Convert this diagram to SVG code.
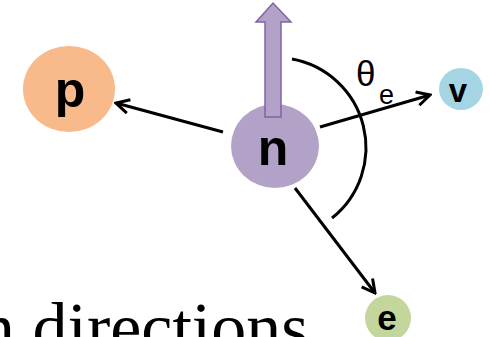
<svg xmlns="http://www.w3.org/2000/svg" width="490" height="337" viewBox="0 0 490 337">
<defs>
<style>
.lbl{font-family:"Liberation Sans",Arial,sans-serif;font-weight:bold;fill:#000;text-anchor:middle}
.conn{stroke:#000;stroke-width:3;fill:none}
</style>
<marker id="ah" viewBox="0 0 12 12" refX="10.5" refY="6" markerWidth="5.5" markerHeight="5.5" markerUnits="strokeWidth" orient="auto">
<path d="M1,1 L10.5,6 L1,11" fill="none" stroke="#000" stroke-width="2.2" stroke-linejoin="miter"/>
</marker>
</defs>
<rect width="490" height="337" fill="#fff"/>
<g id="connectors">
<line class="conn" x1="223" y1="132" x2="116" y2="103" marker-end="url(#ah)"/>
<line class="conn" x1="320" y1="127" x2="430" y2="95" marker-end="url(#ah)"/>
<line class="conn" x1="295" y1="188" x2="375" y2="293" marker-end="url(#ah)"/>
<path class="conn" d="M292,59 A90,90 0 0 1 332,218"/>
</g>
<g id="node-p">
<ellipse cx="69" cy="89" rx="46" ry="43" fill="#F8BA8A"/>
<text class="lbl" x="70" y="107" font-size="50">p</text>
</g>
<g id="node-n">
<ellipse cx="275" cy="146" rx="44" ry="42" fill="#B3A2C7"/>
<text class="lbl" x="273" y="165" font-size="50">n</text>
<polygon points="265,117 281,117 281,22 291,22 273,3 256,22 265,22" fill="#B3A2C7" stroke="#8064A2" stroke-width="1.5"/>
</g>
<g id="node-v">
<ellipse cx="461" cy="89" rx="22" ry="21" fill="#A5D5E2"/>
<text class="lbl" x="458" y="102" font-size="33">v</text>
</g>
<g id="node-e">
<ellipse cx="388" cy="318" rx="23" ry="23" fill="#C3D69B"/>
<text class="lbl" x="387" y="330" font-size="35">e</text>
</g>
<g id="theta-label" font-family="'Liberation Sans',Arial,sans-serif" fill="#000">
<text x="356" y="86" font-size="35">θ</text>
<text x="379" y="104" font-size="27">e</text>
</g>
<text font-family="'Liberation Serif','Times New Roman',serif" font-size="70" fill="#000" x="-20" y="351">n directions</text>
</svg>
